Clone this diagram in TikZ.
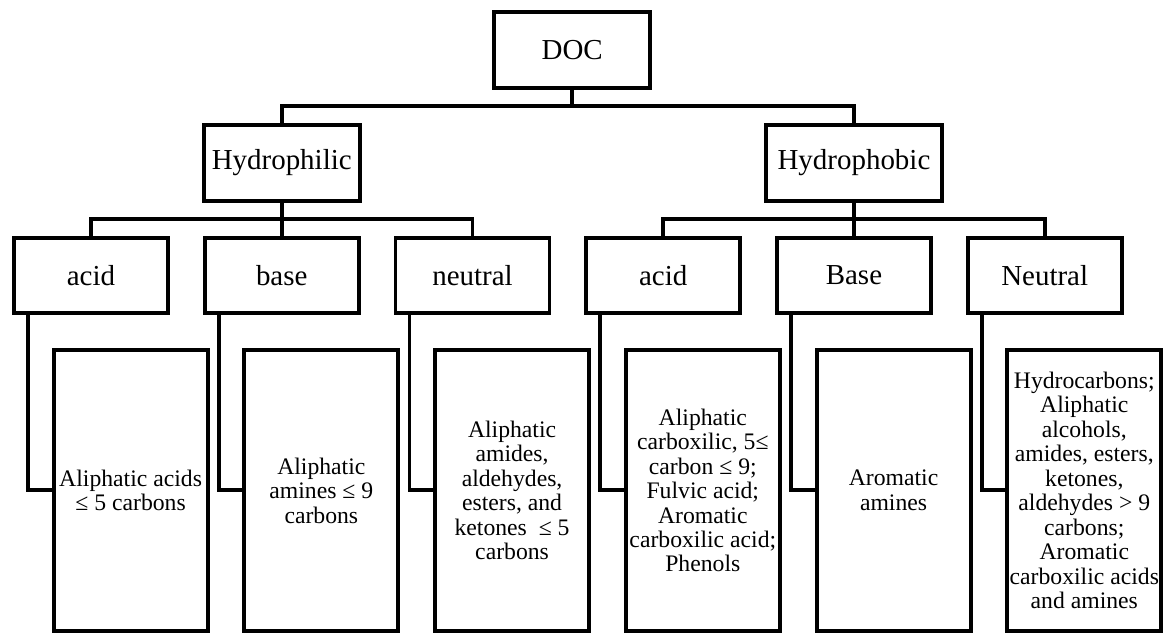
\documentclass[tikz,border=0pt]{standalone}
\usepackage{fontspec}
\setmainfont{Liberation Serif}
\usetikzlibrary{positioning,calc}
\tikzset{
	%Define style for head boxes
	head/.style={
		rectangle,
		draw=black, line width=2.8pt,
		minimum width=3.9cm,
		minimum height=1.9cm,
		font=\fontsize{20.6}{24}\selectfont},
	%Define style for class boxes
	klass/.style={
		rectangle,
		draw=black, line width=2.8pt,
		minimum width=3.85cm,
		minimum height=1.875cm,
		font=\fontsize{20.6}{24}\selectfont},
	%Define style for compound boxes
	leaf/.style={
		rectangle,
		draw=black, line width=2.8pt,
		minimum width=3.85cm,
		minimum height=7.025cm,
		inner sep=1pt,
		align=center,
		font=\fontsize{16.85}{17.4}\selectfont},
	% Define line style
	link/.style={
		line width=2.8pt}
}

\begin{document}
\begin{tikzpicture}
	\useasboundingbox (0,0) rectangle (29.075,-15.875);
	
	% class row
	\node[klass] (acidA) at (2.275,-6.8875) {acid};
	\node[klass, right=0.82cm of acidA] (baseA) {base};
	\node[klass, right=0.82cm of baseA] (neutA) {neutral};
	\node[klass, right=0.82cm of neutA] (acidB) {acid};
	\node[klass, right=0.82cm of acidB] (baseB) {Base};
	\node[klass, right=0.82cm of baseB] (neutB) {Neutral};
	
	% heads
	\node[head, above=0.825cm of baseA] (philic) {Hydrophilic};
	\node[head, minimum width=4.4cm, above=0.825cm of baseB] (phobic) {Hydrophobic};
	\coordinate (mid) at ($(philic.north)!0.5!(phobic.north)$);
	\node[head, above=0.825cm of mid, xshift=0.11cm] (doc) {DOC};
	
	% compounds
	\node[leaf, below=0.825cm of acidA, xshift=0.99cm] (leafA1) {Aliphatic acids\\≤ 5 carbons};
	\node[leaf, below=0.825cm of baseA, xshift=0.99cm] (leafA2) {Aliphatic\\amines ≤ 9\\carbons};
	\node[leaf, below=0.825cm of neutA, xshift=0.99cm] (leafA3) {Aliphatic\\amides,\\aldehydes,\\esters, and\\ketones~ ≤ 5\\carbons};
	\node[leaf, below=0.825cm of acidB, xshift=0.99cm] (leafB1) {Aliphatic\\carboxilic, 5≤\\carbon ≤ 9;\\Fulvic acid;\\Aromatic\\carboxilic acid;\\Phenols};
	\node[leaf, below=0.825cm of baseB, xshift=0.99cm] (leafB2) {Aromatic\\amines};
	\node[leaf, below=0.825cm of neutB, xshift=0.99cm] (leafB3) {Hydrocarbons;\\Aliphatic\\alcohols,\\amides, esters,\\ketones,\\aldehydes > 9\\carbons;\\Aromatic\\carboxilic acids\\and amines};
	
	% tree lines
	\draw[link] (doc.south) -- ++(0,-0.4) coordinate (docjoin);
	\draw[link] (philic.north) |- (docjoin) -| (phobic.north);
	
	\draw[link] (philic.south) -- ++(0,-0.4) coordinate (philjoin);
	\draw[link] (acidA.north) |- (philjoin) -| (neutA.north);
	\draw[link] (philjoin) -- (baseA.north);
	
	\draw[link] (phobic.south) -- ++(0,-0.4) coordinate (phobjoin);
	\draw[link] (acidB.north) |- (phobjoin) -| (neutB.north);
	\draw[link] (phobjoin) -- (baseB.north);
	
	\draw[link] ([xshift=0.4cm]acidA.south west) |- (leafA1.west);
	\draw[link] ([xshift=0.4cm]baseA.south west) |- (leafA2.west);
	\draw[link] ([xshift=0.4cm]neutA.south west) |- (leafA3.west);
	\draw[link] ([xshift=0.4cm]acidB.south west) |- (leafB1.west);
	\draw[link] ([xshift=0.4cm]baseB.south west) |- (leafB2.west);
	\draw[link] ([xshift=0.4cm]neutB.south west) |- (leafB3.west);
	
\end{tikzpicture}
\end{document}
